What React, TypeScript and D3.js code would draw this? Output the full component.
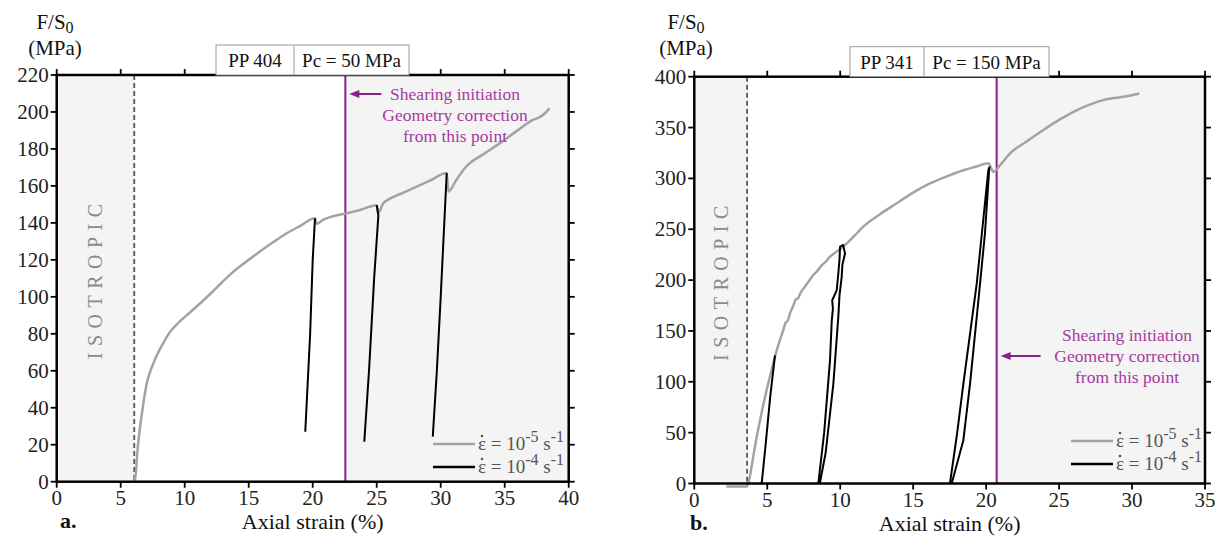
import React from "react";
import * as d3 from "d3";

type P = [number, number];

// ---------- Panel a (PP 404, Pc = 50 MPa) ----------
const aXTicks = [0, 5, 10, 15, 20, 25, 30, 35, 40];
const aYTicks = [0, 20, 40, 60, 80, 100, 120, 140, 160, 180, 200, 220];
const aSlow: P[] = [
  [6.1, 0.5], [6.2, 6], [6.3, 16], [6.45, 26], [6.64, 36], [6.85, 46], [7.03, 53],
  [7.3, 59.5], [7.55, 64], [7.9, 69.5], [8.33, 75], [8.8, 80.5], [9.37, 85], [10.4, 91.5],
  [11.45, 98], [12.5, 105], [13.54, 112], [14.7, 118.5], [15.88, 124.5], [16.9, 129.5],
  [17.97, 134.4], [19.0, 138.3], [20.18, 142.5], [20.3, 139.5], [20.8, 141.6], [21.6, 143.6],
  [22.4, 144.8], [23.7, 147], [25.0, 149.6], [25.13, 145.5], [25.5, 150.5], [26.0, 153],
  [26.8, 155.5], [27.86, 158.8], [29.2, 163], [30.47, 167], [30.6, 157], [31.2, 163],
  [32.0, 170.5], [33.3, 177], [34.6, 183], [35.9, 189.5], [37.2, 195.7], [37.8, 197.5],
  [38.15, 199.3], [38.5, 202],
];
const aFast1: P[] = [[20.18, 142.5], [20.0, 120], [19.8, 80], [19.42, 27]];
const aFast2: P[] = [[25.0, 149.6], [25.13, 144], [24.8, 110], [24.4, 60], [24.03, 21.6]];
const aFast3: P[] = [[30.47, 167], [30.4, 157], [30.0, 100], [29.7, 60], [29.38, 24.4]];

// ---------- Panel b (PP 341, Pc = 150 MPa) ----------
const bXTicks = [0, 5, 10, 15, 20, 25, 30, 35];
const bYTicks = [0, 50, 100, 150, 200, 250, 300, 350, 400];
const bSlow: P[] = [
  [2.2, -3], [3.6, -3], [3.7, 0], [4.0, 23], [4.28, 46], [4.62, 70], [4.96, 92],
  [5.25, 109], [5.53, 124.7], [5.8, 138], [6.1, 151], [6.25, 158], [6.4, 160], [6.55, 167],
  [6.79, 175], [6.95, 181], [7.1, 182], [7.3, 188], [7.5, 192], [7.8, 198],
  [8.16, 205], [8.4, 208.5], [8.7, 214], [9.0, 218], [9.3, 223], [9.8, 228.5],
  [10.33, 234.5], [11.0, 244], [11.58, 252.5], [12.7, 264.5], [13.87, 275.5],
  [15.0, 286], [16.15, 295], [17.3, 302], [18.44, 308], [19.3, 311.5], [20.15, 314.8],
  [20.5, 306.6], [20.95, 313], [21.64, 324.6], [22.8, 336.5], [23.92, 347.6],
  [25.0, 357.5], [26.2, 367], [27.1, 372.5], [28.03, 377], [29.3, 380], [30.5, 383.5],
];
const bFast1: P[] = [[4.5, 0], [4.62, 0], [4.9, 40], [5.2, 85], [5.53, 126]];
const bFast2: P[] = [
  [8.5, 0], [8.9, 50], [9.3, 121], [9.42, 160], [9.5, 172], [9.45, 180], [9.76, 190],
  [9.87, 206.7], [9.95, 220], [9.99, 233], [10.2, 234.5], [10.33, 226], [10.15, 215],
  [10.1, 203], [9.95, 185], [9.87, 164], [9.53, 98], [9.0, 30], [8.6, 0],
];
const bFast3: P[] = [
  [17.52, 0], [18.0, 48], [18.44, 98], [19.36, 197], [20.15, 308], [20.22, 311],
  [19.92, 246], [19.47, 180], [18.9, 98.5], [18.44, 42.6], [17.64, 0],
];

const FONT = "'Liberation Serif', 'Times New Roman', serif";
const GRAY = "#a3a3a3";
const PURPLE = "#8a1f8a";
const PURPLE_TXT = "#a63aa0";
const SHADE = "#f4f4f4";

interface PanelProps {
  left: number; right: number; top: number; bottom: number;
  xMax: number; yMax: number; xTicks: number[]; yTicks: number[];
  isoEnd: number; shearX: number;
  slow: P[]; fast: P[][];
  sample: string; pc: string; boxX0: number; boxDiv: number; boxX1: number;
  annot: { arrowY: number; textCx: number; textY0: number; arrowLen: number };
  legendX: number; legendY: number;
  letter: string; letterX: number;
  ylabX: number;
}

function Legend({ x, y }: { x: number; y: number }) {
  const item = (yy: number, color: string, exp: string) => (
    <g>
      <line x1={x} x2={x + 42} y1={yy} y2={yy} stroke={color} strokeWidth={2.5} />
      <circle cx={x + 49} cy={yy - 8} r={1.3} fill="#555" />
      <text x={x + 45} y={yy + 6} fontFamily={FONT} fontSize={19} fill="#555">
        ε = 10<tspan dy={-8} fontSize={16}>{exp}</tspan>
        <tspan dy={8}> s</tspan>
        <tspan dy={-8} fontSize={16}>-1</tspan>
      </text>
    </g>
  );
  return (
    <g>
      {item(y, GRAY, "-5")}
      {item(y + 23, "#000", "-4")}
    </g>
  );
}

function Panel(p: PanelProps) {
  const x = d3.scaleLinear().domain([0, p.xMax]).range([p.left, p.right]);
  const y = d3.scaleLinear().domain([0, p.yMax]).range([p.bottom, p.top]);
  const smooth = d3.line<P>().x((d) => x(d[0])).y((d) => y(d[1])).curve(d3.curveMonotoneX);
  const line = d3.line<P>().x((d) => x(d[0])).y((d) => y(d[1]));
  const isoCx = (x(0) + x(p.isoEnd)) / 2;
  const isoCy = (p.top + p.bottom) / 2;
  const a = p.annot;
  const sx = x(p.shearX);
  return (
    <g>
      <rect x={x(0)} y={p.top} width={x(p.isoEnd) - x(0)} height={p.bottom - p.top} fill={SHADE} />
      <rect x={sx} y={p.top} width={p.right - sx} height={p.bottom - p.top} fill={SHADE} />
      <line x1={x(p.isoEnd)} x2={x(p.isoEnd)} y1={p.top} y2={p.bottom} stroke="#555" strokeWidth={1.8} strokeDasharray="5,3" />
      <line x1={sx} x2={sx} y1={p.top} y2={p.bottom} stroke={PURPLE} strokeWidth={2} />
      <text
        transform={`translate(${isoCx + 7},${isoCy}) rotate(-90)`}
        textAnchor="middle" fontFamily={FONT} fontSize={20} fill="#8a8a8a" letterSpacing={6.5}
      >ISOTROPIC</text>

      <path d={smooth(p.slow) || ""} fill="none" stroke={GRAY} strokeWidth={2.5} strokeLinejoin="round" />
      {p.fast.map((f, i) => (
        <path key={i} d={line(f) || ""} fill="none" stroke="#000" strokeWidth={2} strokeLinejoin="round" />
      ))}

      {/* annotation */}
      <line x1={sx + 10} x2={sx + 10 + a.arrowLen} y1={a.arrowY} y2={a.arrowY} stroke={PURPLE} strokeWidth={2} />
      <path d={`M${sx + 4},${a.arrowY} L${sx + 14},${a.arrowY - 4} L${sx + 14},${a.arrowY + 4} Z`} fill={PURPLE} />
      {["Shearing initiation", "Geometry correction", "from this point"].map((t, i) => (
        <text key={t} x={a.textCx} y={a.textY0 + i * 21} textAnchor="middle" fontFamily={FONT} fontSize={17.5} fill={PURPLE_TXT}>{t}</text>
      ))}

      <Legend x={p.legendX} y={p.legendY} />

      {/* frame */}
      <rect x={p.left} y={p.top} width={p.right - p.left} height={p.bottom - p.top} fill="none" stroke="#000" strokeWidth={2.5} />
      {p.xTicks.map((t) => (
        <g key={"x" + t}>
          <line x1={x(t)} x2={x(t)} y1={p.bottom} y2={p.bottom + 6} stroke="#000" strokeWidth={1.8} />
          <line x1={x(t)} x2={x(t)} y1={p.top} y2={p.top - 6} stroke="#000" strokeWidth={1.8} />
          <text x={x(t)} y={p.bottom + 23} textAnchor="middle" fontFamily={FONT} fontSize={21} fill="#222">{t}</text>
        </g>
      ))}
      {p.yTicks.map((t) => (
        <g key={"y" + t}>
          <line x1={p.left - 6} x2={p.left} y1={y(t)} y2={y(t)} stroke="#000" strokeWidth={1.8} />
          <line x1={p.right} x2={p.right + 6} y1={y(t)} y2={y(t)} stroke="#000" strokeWidth={1.8} />
          <text x={p.left - 8} y={y(t) + 7} textAnchor="end" fontFamily={FONT} fontSize={21} fill="#222">{t}</text>
        </g>
      ))}

      {/* sample box */}
      <rect x={p.boxX0} y={p.top - 30} width={p.boxX1 - p.boxX0} height={30} fill="#fff" stroke="#999" strokeWidth={1} />
      <line x1={p.boxDiv} x2={p.boxDiv} y1={p.top - 30} y2={p.top} stroke="#999" strokeWidth={1} />
      <text x={(p.boxX0 + p.boxDiv) / 2} y={p.top - 8} textAnchor="middle" fontFamily={FONT} fontSize={19} fill="#111">{p.sample}</text>
      <text x={(p.boxDiv + p.boxX1) / 2} y={p.top - 8} textAnchor="middle" fontFamily={FONT} fontSize={19} fill="#111">{p.pc}</text>

      {/* axis titles */}
      <text x={p.ylabX} y={29} textAnchor="middle" fontFamily={FONT} fontSize={21} fill="#111">
        F/S<tspan dy={4} fontSize={16}>0</tspan>
      </text>
      <text x={p.ylabX} y={55} textAnchor="middle" fontFamily={FONT} fontSize={21} fill="#111">(MPa)</text>
      <text x={(p.left + p.right) / 2} y={p.bottom + 47} textAnchor="middle" fontFamily={FONT} fontSize={22} fill="#111">Axial strain (%)</text>
      <text x={p.letterX} y={p.bottom + 46} fontFamily={FONT} fontSize={22} fontWeight="bold" fill="#111">{p.letter}</text>
    </g>
  );
}

export default function App() {
  return (
    <svg width={1227} height={536} style={{ position: "absolute", left: 0, top: 0, background: "#fff" }}>
      <Panel
        left={56.7} right={568.7} top={75} bottom={481.7} xMax={40} yMax={220}
        xTicks={aXTicks} yTicks={aYTicks} isoEnd={6.06} shearX={22.55}
        slow={aSlow} fast={[aFast1, aFast2, aFast3]}
        sample="PP 404" pc="Pc = 50 MPa" boxX0={216} boxDiv={294} boxX1={409}
        annot={{ arrowY: 94, textCx: 455, textY0: 100, arrowLen: 26 }}
        legendX={433} legendY={444} letter="a." letterX={60} ylabX={55}
      />
      <Panel
        left={694.3} right={1205} top={76.7} bottom={483.5} xMax={35} yMax={400}
        xTicks={bXTicks} yTicks={bYTicks} isoEnd={3.62} shearX={20.72}
        slow={bSlow} fast={[bFast1, bFast2, bFast3]}
        sample="PP 341" pc="Pc = 150 MPa" boxX0={850} boxDiv={924} boxX1={1049}
        annot={{ arrowY: 356, textCx: 1127, textY0: 341, arrowLen: 34 }}
        legendX={1071} legendY={441} letter="b." letterX={690} ylabX={686}
      />
    </svg>
  );
}
